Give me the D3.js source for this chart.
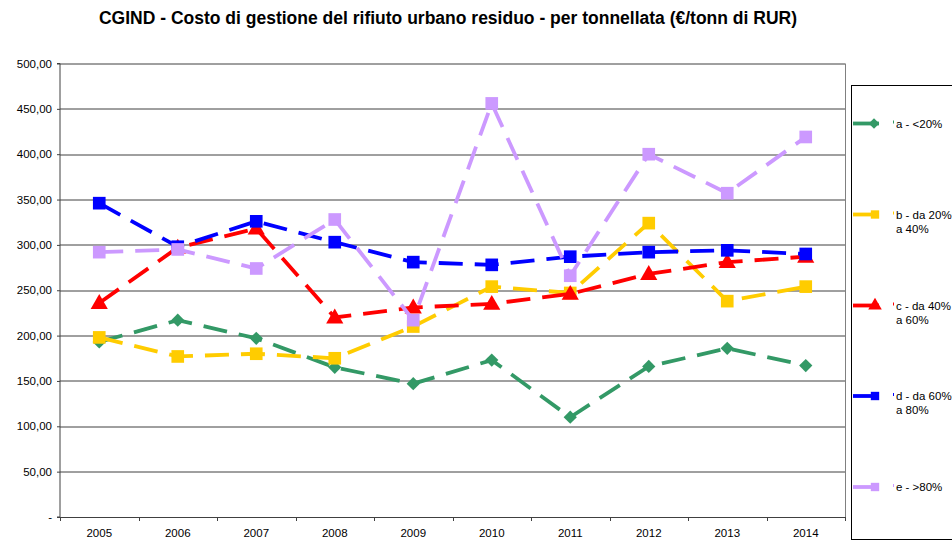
<!DOCTYPE html>
<html>
<head>
<meta charset="utf-8">
<script src="https://cdn.jsdelivr.net/npm/d3@7"></script>
<style>
  body { margin: 0; background: #fff; }
  svg { display: block; font-family: "Liberation Sans", Arial, sans-serif; }
  .tick-label { font-size: 11.5px; fill: #000; }
  .legend-label { font-size: 11.5px; fill: #000; }
</style>
</head>
<body>
<div id="wrapper"></div>
<script>
// data
const years = ["2005", "2006", "2007", "2008", "2009", "2010", "2011", "2012", "2013", "2014"]

const seriesA = [193, 217, 197, 165, 147, 173, 110, 166, 186, 167]
const seriesB = [198, 177, 180, 175, 210, 254, 247, 324, 238, 254]
const seriesC = [236, 297, 318, 220, 231, 235, 246, 268, 281, 287]
const seriesD = [346, 298, 326, 303, 281, 278, 287, 292, 294, 290]
const seriesE = [292, 295, 274, 328, 217, 456, 266, 400, 357, 419]

const seriesNames = [
  ["a - <20%"],
  ["b - da 20%", "a 40%"],
  ["c - da 40%", "a 60%"],
  ["d - da 60%", "a 80%"],
  ["e - >80%"]
]
const yTicks = [0, 50, 100, 150, 200, 250, 300, 350, 400, 450, 500]

const colors = ["#339966", "#ffcc00", "#ff0000", "#0000ff", "#cc99ff"]
const shapes = ["diamond", "square", "triangle", "square", "square"]

const allSeries = [seriesA, seriesB, seriesC, seriesD, seriesE]

// dimensions
const dimensions = {
  width: 952,
  height: 541,
  margin: { top: 63.5, left: 60, bottom: 24, right: 107 }
}
dimensions.boundedWidth = dimensions.width - dimensions.margin.left - dimensions.margin.right
dimensions.boundedHeight = dimensions.height - dimensions.margin.top - dimensions.margin.bottom

const svg = d3.select("#wrapper").append("svg")
  .attr("width", dimensions.width)
  .attr("height", dimensions.height)

// title
svg.append("text")
  .attr("x", 448)
  .attr("y", 24)
  .attr("text-anchor", "middle")
  .style("font-size", "17.5px")
  .style("font-weight", "bold")
  .text("CGIND - Costo di gestione del rifiuto urbano residuo - per tonnellata (€/tonn di RUR)")

const bounds = svg.append("g")
  .attr("transform", `translate(${dimensions.margin.left}, ${dimensions.margin.top})`)

// scales
const xScale = d3.scaleBand()
  .domain(years)
  .range([0, dimensions.boundedWidth])
  .padding(0)

const yScale = d3.scaleLinear()
  .domain([0, 500])
  .range([dimensions.boundedHeight, 0])

const fmt = v => v === 0 ? "-" : d3.format(".2f")(v).replace(".", ",")

// gridlines
bounds.append("g")
  .selectAll("line")
  .data(yTicks.filter(d => d > 0))
  .join("line")
    .attr("x1", 0)
    .attr("x2", dimensions.boundedWidth)
    .attr("y1", d => Math.round(yScale(d)) + 0.5)
    .attr("y2", d => Math.round(yScale(d)) + 0.5)
    .attr("stroke", "#404040")
    .attr("stroke-width", 1)

// right border of the plot area
bounds.append("line")
  .attr("x1", dimensions.boundedWidth + 0.5)
  .attr("x2", dimensions.boundedWidth + 0.5)
  .attr("y1", 0)
  .attr("y2", dimensions.boundedHeight)
  .attr("stroke", "#808080")

// y axis
const yAxis = d3.axisLeft(yScale)
  .tickValues(yTicks)
  .tickSize(3)
  .tickFormat(fmt)
const yAxisG = bounds.append("g").call(yAxis)
yAxisG.select(".domain").attr("stroke", "#404040").attr("d", `M-3,${dimensions.boundedHeight}H0V0H-3`)
yAxisG.selectAll(".tick line").attr("stroke", "#404040")
yAxisG.selectAll(".tick text")
  .attr("class", "tick-label")
  .attr("x", -8)
  .style("font-family", "Liberation Sans, Arial, sans-serif")
  .style("font-size", "11.5px")

// x axis: ticks at category boundaries
const xAxisG = bounds.append("g")
  .attr("transform", `translate(0, ${dimensions.boundedHeight})`)
xAxisG.append("line")
  .attr("x1", -3)
  .attr("x2", dimensions.boundedWidth)
  .attr("y1", 0.5)
  .attr("y2", 0.5)
  .attr("stroke", "#404040")
xAxisG.selectAll(".xtick")
  .data(years.concat(["end"]))
  .join("line")
    .attr("class", "xtick")
    .attr("x1", (d, i) => Math.round(i * xScale.bandwidth()) + 0.5)
    .attr("x2", (d, i) => Math.round(i * xScale.bandwidth()) + 0.5)
    .attr("y1", 0)
    .attr("y2", 4)
    .attr("stroke", "#404040")
xAxisG.selectAll(".xlabel")
  .data(years)
  .join("text")
    .attr("class", "tick-label")
    .attr("x", d => xScale(d) + xScale.bandwidth() / 2)
    .attr("y", 20)
    .attr("text-anchor", "middle")
    .text(d => d)

// markers
const symbolFor = (shape, size) => {
  if (shape === "diamond") return d3.symbol().type(d3.symbolSquare).size(size * 0.55)()
  if (shape === "triangle") return d3.symbol().type(d3.symbolTriangle).size(size * 0.8)()
  return d3.symbol().type(d3.symbolSquare).size(size)()
}

const lineGenerator = d3.line()
  .x((d, i) => xScale(years[i]) + xScale.bandwidth() / 2)
  .y(d => yScale(d))

allSeries.forEach((values, s) => {
  const g = bounds.append("g")
  g.append("path")
    .datum(values)
    .attr("d", lineGenerator)
    .attr("fill", "none")
    .attr("stroke", colors[s])
    .attr("stroke-width", 3.8)
    .attr("stroke-dasharray", "24,12")

  g.selectAll(".marker")
    .data(values)
    .join("path")
      .attr("class", "marker")
      .attr("d", symbolFor(shapes[s], 160))
      .attr("fill", colors[s])
      .attr("transform", (d, i) => {
        const x = xScale(years[i]) + xScale.bandwidth() / 2
        const y = yScale(d)
        if (shapes[s] === "diamond") return `translate(${x}, ${y}) rotate(45)`
        if (shapes[s] === "triangle") return `translate(${x}, ${y + 1})`
        return `translate(${x}, ${y})`
      })
})

// legend
const legend = svg.append("g")
legend.append("rect")
  .attr("x", 851.5)
  .attr("y", 85.5)
  .attr("width", 120)
  .attr("height", 454)
  .attr("fill", "#fff")
  .attr("stroke", "#000")

const legendY = [123.5, 214.5, 305.5, 396, 487]
seriesNames.forEach((lines, s) => {
  const y = legendY[s]
  legend.append("line")
    .attr("x1", 853)
    .attr("x2", 879)
    .attr("y1", y)
    .attr("y2", y)
    .attr("stroke", colors[s])
    .attr("stroke-width", 3.8)
  legend.append("path")
    .attr("d", symbolFor(shapes[s], shapes[s] === "square" ? 70 : 100))
    .attr("fill", colors[s])
    .attr("transform", shapes[s] === "diamond" ? `translate(874, ${y}) rotate(45)` : `translate(875, ${y})`)
  legend.append("rect")
    .attr("x", 893)
    .attr("y", y - 3)
    .attr("width", 1)
    .attr("height", 3)
    .attr("fill", colors[s])
  legend.append("text")
    .attr("class", "legend-label")
    .attr("x", 896)
    .attr("y", y + 4)
    .selectAll("tspan")
    .data(lines)
    .join("tspan")
      .attr("x", 896)
      .attr("dy", (d, i) => i === 0 ? 0 : 14)
      .text(d => d)
})
</script>
</body>
</html>
